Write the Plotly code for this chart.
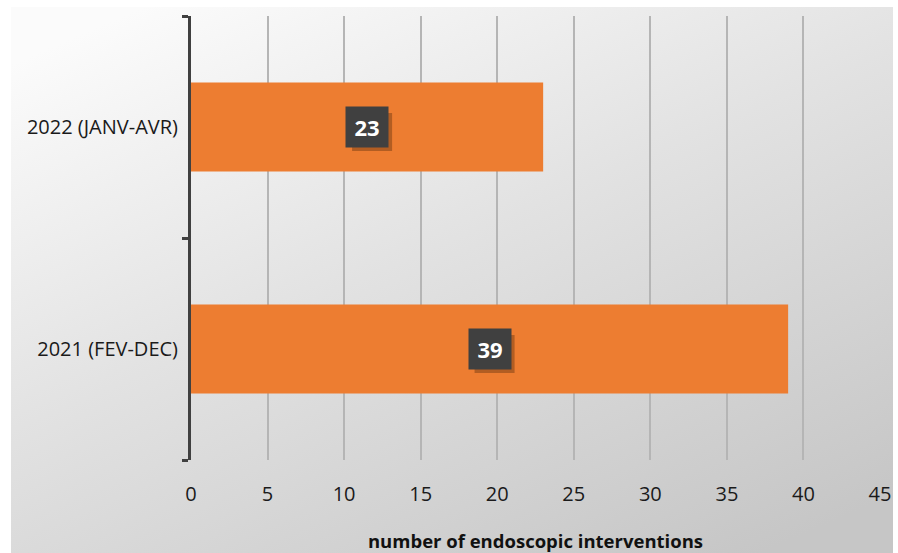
import base64
import plotly.graph_objects as go

categories = ["2021 (FEV-DEC)", "2022 (JANV-AVR)"]
values = [39, 23]
x_ticks = [0, 5, 10, 15, 20, 25, 30, 35, 40, 45]
x_title = "number of endoscopic interventions"

FONT = "Open Sans"
ORANGE = "#ED7D31"
DARK = "#404040"

# background gradient (decorative), as an inline SVG
svg = (
    '<svg xmlns="http://www.w3.org/2000/svg" width="882" height="546" viewBox="0 0 882 546" preserveAspectRatio="none">'
    '<defs><linearGradient id="g" x1="0.15" y1="0" x2="0.85" y2="1">'
    '<stop offset="0" stop-color="#fbfbfb"/>'
    '<stop offset="0.45" stop-color="#e2e2e2"/>'
    '<stop offset="1" stop-color="#c6c6c6"/>'
    '</linearGradient></defs>'
    '<rect width="882" height="546" fill="url(#g)"/></svg>'
)
svg_uri = "data:image/svg+xml;base64," + base64.b64encode(svg.encode()).decode()

W, H = 898, 553
L, R, T, B = 191, 18, 16, 93
pw, ph = W - L - R, H - T - B

def px_to_paper_x(px):
    return (px - L) / pw

def px_to_paper_y(py):
    return (H - B - py) / ph

fig = go.Figure()
fig.add_trace(go.Bar(
    y=categories, x=values, orientation="h",
    marker=dict(color=ORANGE, line=dict(width=0)),
    hoverinfo="x+y",
))

# value labels in dark boxes with a soft shadow
for i, (c, v) in enumerate(zip(categories, values)):
    fig.add_shape(
        type="rect", xref="x", yref="y", xsizemode="pixel", ysizemode="pixel",
        xanchor=v / 2, yanchor=i, x0=-15, x1=25, y0=-24, y1=14,
        fillcolor="rgba(70,35,10,0.35)", line=dict(width=0), layer="above",
    )
    fig.add_annotation(
        x=v / 2, y=c, xref="x", yref="y", text=f"<b>{v}</b>", showarrow=False,
        font=dict(family=FONT, size=22, color="white"),
        bgcolor=DARK, width=40, height=38,
    )

fig.add_layout_image(dict(
    source=svg_uri, xref="paper", yref="paper",
    x=px_to_paper_x(11), y=px_to_paper_y(7),
    sizex=px_to_paper_x(893) - px_to_paper_x(11),
    sizey=px_to_paper_y(7) - px_to_paper_y(553),
    xanchor="left", yanchor="top", sizing="stretch", layer="below",
))

fig.update_layout(
    width=W, height=H,
    margin=dict(l=L, r=R, t=T, b=B, pad=0, autoexpand=False),
    paper_bgcolor="white", plot_bgcolor="rgba(0,0,0,0)",
    bargap=0.6, showlegend=False,
    font=dict(family=FONT, size=20, color="#1a1a1a"),
    xaxis=dict(
        range=[0, 45], tickvals=x_ticks, ticktext=[str(t) for t in x_ticks],
        showgrid=True, gridcolor="#b5b5b5", gridwidth=2,
        zeroline=False, showline=False, ticks="", ticklabelstandoff=20,
        tickfont=dict(family=FONT, size=20, color="#1a1a1a"),
        title=dict(text=f"<b>{x_title}</b>", standoff=30,
                   font=dict(family=FONT, size=18.5, color="#111111")),
        automargin=False, fixedrange=True,
    ),
    yaxis=dict(
        type="category", categoryorder="array", categoryarray=categories,
        showline=True, linecolor=DARK, linewidth=3,
        ticks="outside", tickson="boundaries", ticklen=6, tickwidth=3, tickcolor=DARK,
        showgrid=False, ticklabelstandoff=6,
        tickfont=dict(family=FONT, size=20, color="#1a1a1a"),
        automargin=False, fixedrange=True,
    ),
)

fig.write_html("out.html")
